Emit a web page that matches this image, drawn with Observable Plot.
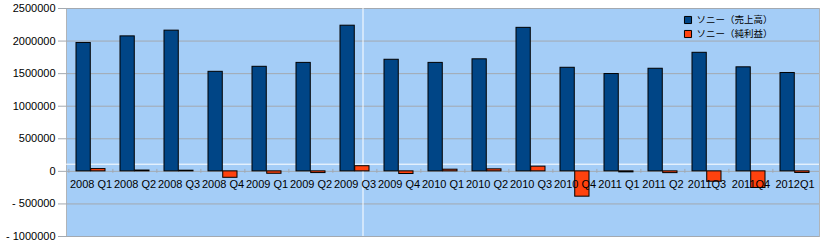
<!DOCTYPE html>
<html>
<head>
<meta charset="utf-8">
<script src="https://cdn.jsdelivr.net/npm/d3@7"></script>
<script src="https://cdn.jsdelivr.net/npm/@observablehq/plot@0.6"></script>
<style>
  html, body { margin: 0; padding: 0; background: #ffffff; }
  #chart svg { display: block; }
</style>
</head>
<body>
<div id="chart"></div>
<script>
const quarters = ["2008 Q1","2008 Q2","2008 Q3","2008 Q4","2009 Q1","2009 Q2","2009 Q3","2009 Q4",
  "2010 Q1","2010 Q2","2010 Q3","2010 Q4","2011 Q1","2011 Q2","2011Q3","2011Q4","2012Q1"];
const sales = [1971000, 2072000, 2160000, 1528000, 1605000, 1665000, 2236000, 1713000,
  1665000, 1720000, 2203000, 1590000, 1494000, 1575000, 1820000, 1597000, 1510000];
const netIncome = [35000, 12500, 10000, -98900, -37100, -26300, 79100, -40800,
  25700, 31200, 72200, -388600, -15500, -27100, -159000, -255100, -24600];
const seriesNames = ["ソニー（売上高）", "ソニー（純利益）"];
const seriesColors = ["#004586", "#ff420e"];
const yTicks = [2500000, 2000000, 1500000, 1000000, 500000, 0, -500000, -1000000];

const W = 824, H = 250, mL = 66, mR = 5, mT = 8, mB = 14;
const padIn = 0.335;
const step = (W - mL - mR) / quarters.length;
const half = step * (1 - padIn) / 2;

const rows = quarters.map((q, i) => ({q, sales: sales[i], net: netIncome[i]}));
const fmt = d => d < 0 ? "- " + Math.abs(d) : String(d);
const gridColor = "#a3a9b0";

const legendMarks = seriesNames.flatMap((name, i) => [
  Plot.dot([name], {frameAnchor: "top-right", dx: -131.5, dy: 11.5 + i * 14, symbol: "square", r: 4,
    fill: seriesColors[i], stroke: "black", strokeWidth: 1}),
  Plot.text([name], {text: d => d, frameAnchor: "top-right", dx: -123, dy: 11.5 + i * 14,
    textAnchor: "start", lineAnchor: "middle", fontFamily: "Noto Sans CJK JP", fontSize: 9.5, fill: "black",
    style: "letter-spacing: 0.5px"})
]);

const chart = Plot.plot({
  width: W, height: H,
  marginLeft: mL, marginRight: mR, marginTop: mT, marginBottom: mB,
  style: {fontFamily: "Liberation Sans, Arial, sans-serif", fontSize: "11px", background: "white", color: "black"},
  x: {type: "band", domain: quarters, paddingInner: padIn, paddingOuter: padIn / 2, axis: null},
  y: {domain: [-1000000, 2500000], axis: null},
  marks: [
    Plot.frame({fill: "#a4cdf7", stroke: "#b0b4b8"}),
    Plot.gridY(yTicks, {stroke: gridColor, strokeOpacity: 1}),
    Plot.ruleY([110000], {stroke: "white", strokeWidth: 1}),
    Plot.ruleX(["2009 Q3"], {dx: 8, stroke: "white", strokeWidth: 1}),
    Plot.ruleX(quarters, {x: d => d, dx: -step / 2, y1: -30000, y2: 30000, stroke: gridColor}),
    Plot.axisY(yTicks, {tickSize: 8, tickPadding: 3, stroke: gridColor, tickFormat: fmt, fill: "black", fontSize: 11}),
    Plot.barY(rows, {x: "q", y: "sales", fill: seriesColors[0], stroke: "black", strokeWidth: 1, insetRight: half}),
    Plot.barY(rows, {x: "q", y: "net", fill: seriesColors[1], stroke: "black", strokeWidth: 1, insetLeft: half}),
    Plot.text(quarters, {x: d => d, y: 0, dy: 13, text: d => d, lineAnchor: "middle", fontSize: 11, fill: "black",
      style: "letter-spacing: 0.2px"}),
    ...legendMarks
  ]
});
document.getElementById("chart").appendChild(chart);
</script>
</body>
</html>
